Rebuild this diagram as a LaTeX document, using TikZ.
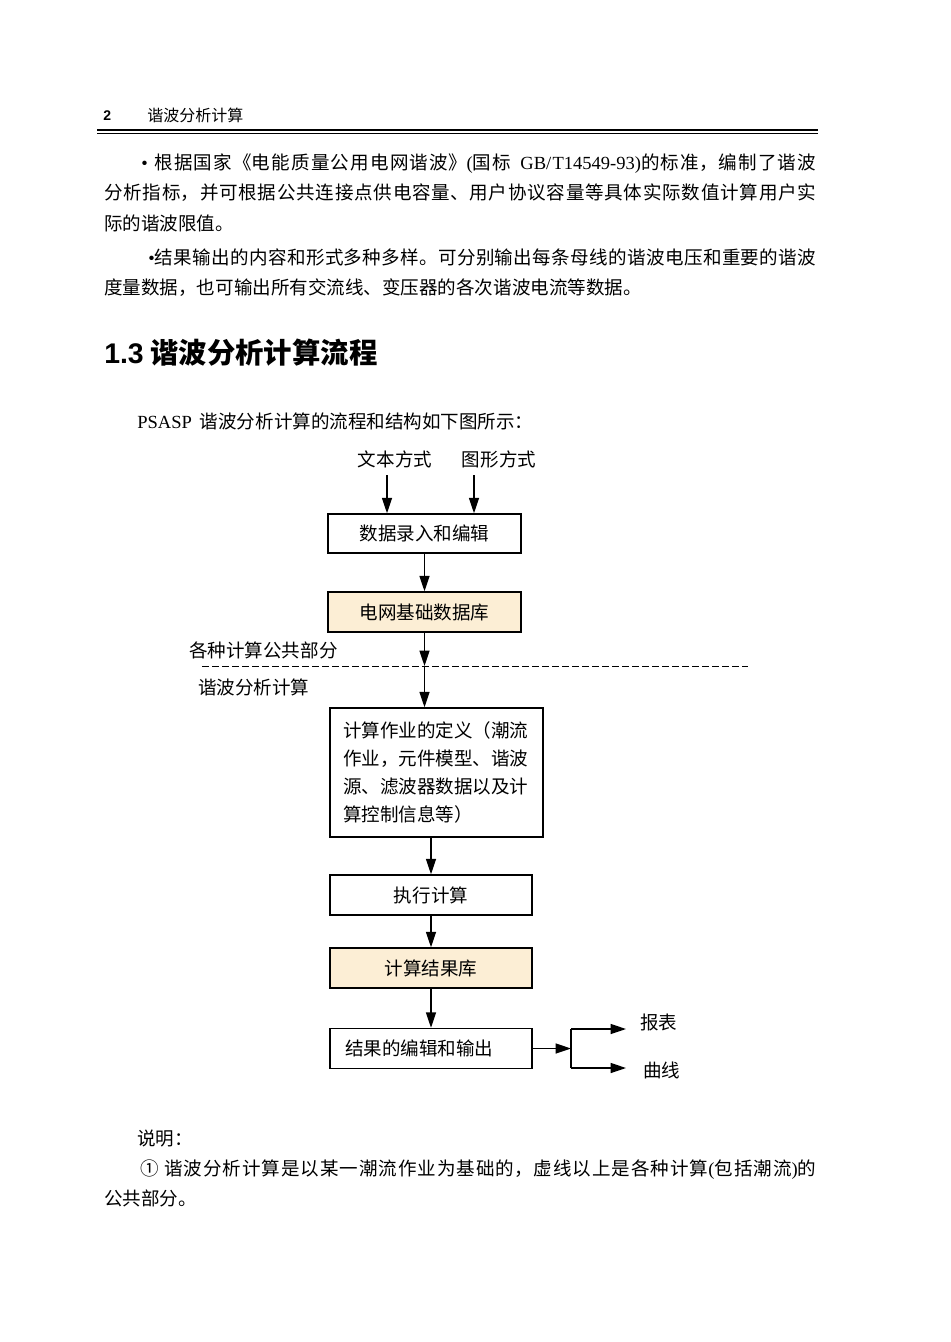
\documentclass[tikz,border=0pt]{standalone}
\usepackage{fontspec}
\setmainfont{Noto Sans CJK SC}
\newfontfamily\tms{Liberation Serif}
\newfontfamily\arial{Liberation Sans}
\usetikzlibrary{arrows.meta}
\definecolor{dbfill}{RGB}{252,238,213}
\XeTeXlinebreaklocale "zh"
\XeTeXlinebreakskip=0pt plus 1pt
\tolerance=9999
\hbadness=10000
\newcommand{\txtsize}{\fontsize{13.9pt}{22.9pt}\selectfont}
\begin{document}
\begin{tikzpicture}[x=0.75pt,y=-0.75pt,
  >={Triangle[length=11.5pt,width=7.5pt]},
  every node/.style={font=\txtsize},
  para/.style={anchor=base west,inner sep=0pt,text width=534pt,align=justify},
  flow/.style={draw,line width=1.1pt,inner sep=0pt,minimum width=151.5pt,minimum height=30pt},
  dbflow/.style={flow,fill=dbfill},
  link/.style={->,line width=1pt}]
\useasboundingbox (0,0) rectangle (950,1342);

% page head
\node[anchor=base west,inner sep=0pt,font={\arial\bfseries\fontsize{10.5pt}{12pt}\selectfont}] (pageno) at (103,120) {2};
\node[anchor=base west,inner sep=0pt,font={\fontsize{12pt}{14pt}\selectfont}] (runhead) at (147,121) {谐波分析计算};
\draw[line width=1.5pt] (97,130) -- (818,130);
\draw[line width=0.75pt] (97,133.5) -- (818,133.5);

% text above the chart
\node[para] (par1) at (104,169) {\hspace*{27.75pt}{\tms •\ }根据国家《电能质量公用电网谐波》{\tms (}国标{\tms\hspace{7pt}GB/T14549-93)}的标准，编制了谐波\linebreak
分析指标，并可根据公共连接点供电容量、用户协议容量等具体实际数值计算用户实\linebreak
际的谐波限值。};
\node[para] (par2) at (104,264) {\hspace*{33pt}{\tms •}结果输出的内容和形式多种多样。可分别输出每条母线的谐波电压和重要的谐波\linebreak
度量数据，也可输出所有交流线、变压器的各次谐波电流等数据。};
\node[anchor=base west,inner sep=0pt,font={\bfseries\fontsize{21.3pt}{24pt}\selectfont}] (sechead) at (104,363) {{\arial 1.3} 谐波分析计算流程};
\node[anchor=base west,inner sep=0pt] (intro) at (137,428) {{\tms PSASP\hspace{6pt}}谐波分析计算的流程和结构如下图所示：};

% flow chart
\node (txtin) at (395,459) {文本方式};
\node (figin) at (499,459) {图形方式};
\coordinate (txtarr) at (387,475);
\coordinate (figarr) at (474,475);
\node[flow,minimum width=144.75pt,minimum height=29.25pt] (edit) at (424.5,533.5) {数据录入和编辑};
\node[dbflow,minimum width=144.75pt] (griddb) at (424.5,612) {电网基础数据库};
\node[anchor=west,inner sep=0pt] (common) at (189,650) {各种计算公共部分};
\coordinate (dashl) at (202,666);
\coordinate (dashr) at (748,666);
\coordinate (cut) at (griddb.south |- dashl);
\node[anchor=west,inner sep=0pt] (harm) at (198,687) {谐波分析计算};
\node[flow,minimum width=159.75pt,minimum height=96.75pt,inner xsep=9.875pt,text width=140pt,align=left,
  font={\fontsize{13.9pt}{21pt}\selectfont}] (jobdef) at (436.5,772.5)
  {计算作业的定义（潮流\\作业，元件模型、谐波\\源、滤波器数据以及计\\算控制信息等）};
\node[flow] (exec) at (431,895) {执行计算};
\node[dbflow] (resdb) at (431,968) {计算结果库};
\node[flow,inner xsep=11.25pt,text width=129pt,align=left] (output) at (431,1048.5) {结果的编辑和输出};
\coordinate (split) at (571,1048.5);
\coordinate (splittop) at (571,1029);
\coordinate (splitbot) at (571,1068);
\coordinate (reportend) at (626,1029);
\coordinate (curveend) at (626,1068);
\node[anchor=west,inner sep=0pt] (report) at (640,1022) {报表};
\node[anchor=west,inner sep=0pt] (curve) at (643,1070) {曲线};

\draw[line width=0.75pt,dash pattern=on 5pt off 2.5pt] (dashl) -- (dashr);
\draw[link] (txtarr) -- (txtarr |- edit.north);
\draw[link] (figarr) -- (figarr |- edit.north);
\draw[link] (edit) -- (griddb);
\draw[link] (griddb) -- (cut);
\draw[link] (cut) -- (cut |- jobdef.north);
\draw[link] (jobdef.south -| exec.north) -- (exec);
\draw[link] (exec) -- (resdb);
\draw[link] (resdb) -- (output);
\draw[link] (output) -- (split);
\draw[line width=1pt] (splittop) -- (splitbot);
\draw[link] (splittop) -- (reportend);
\draw[link] (splitbot) -- (curveend);

% note below the chart
\node[anchor=base west,inner sep=0pt] (notehead) at (137,1145) {说明：};
\node[para] (note) at (104,1175) {\hspace*{27pt}①\ 谐波分析计算是以某一潮流作业为基础的，虚线以上是各种计算{\tms (}包括潮流{\tms )}的\linebreak
公共部分。};
\end{tikzpicture}
\end{document}
